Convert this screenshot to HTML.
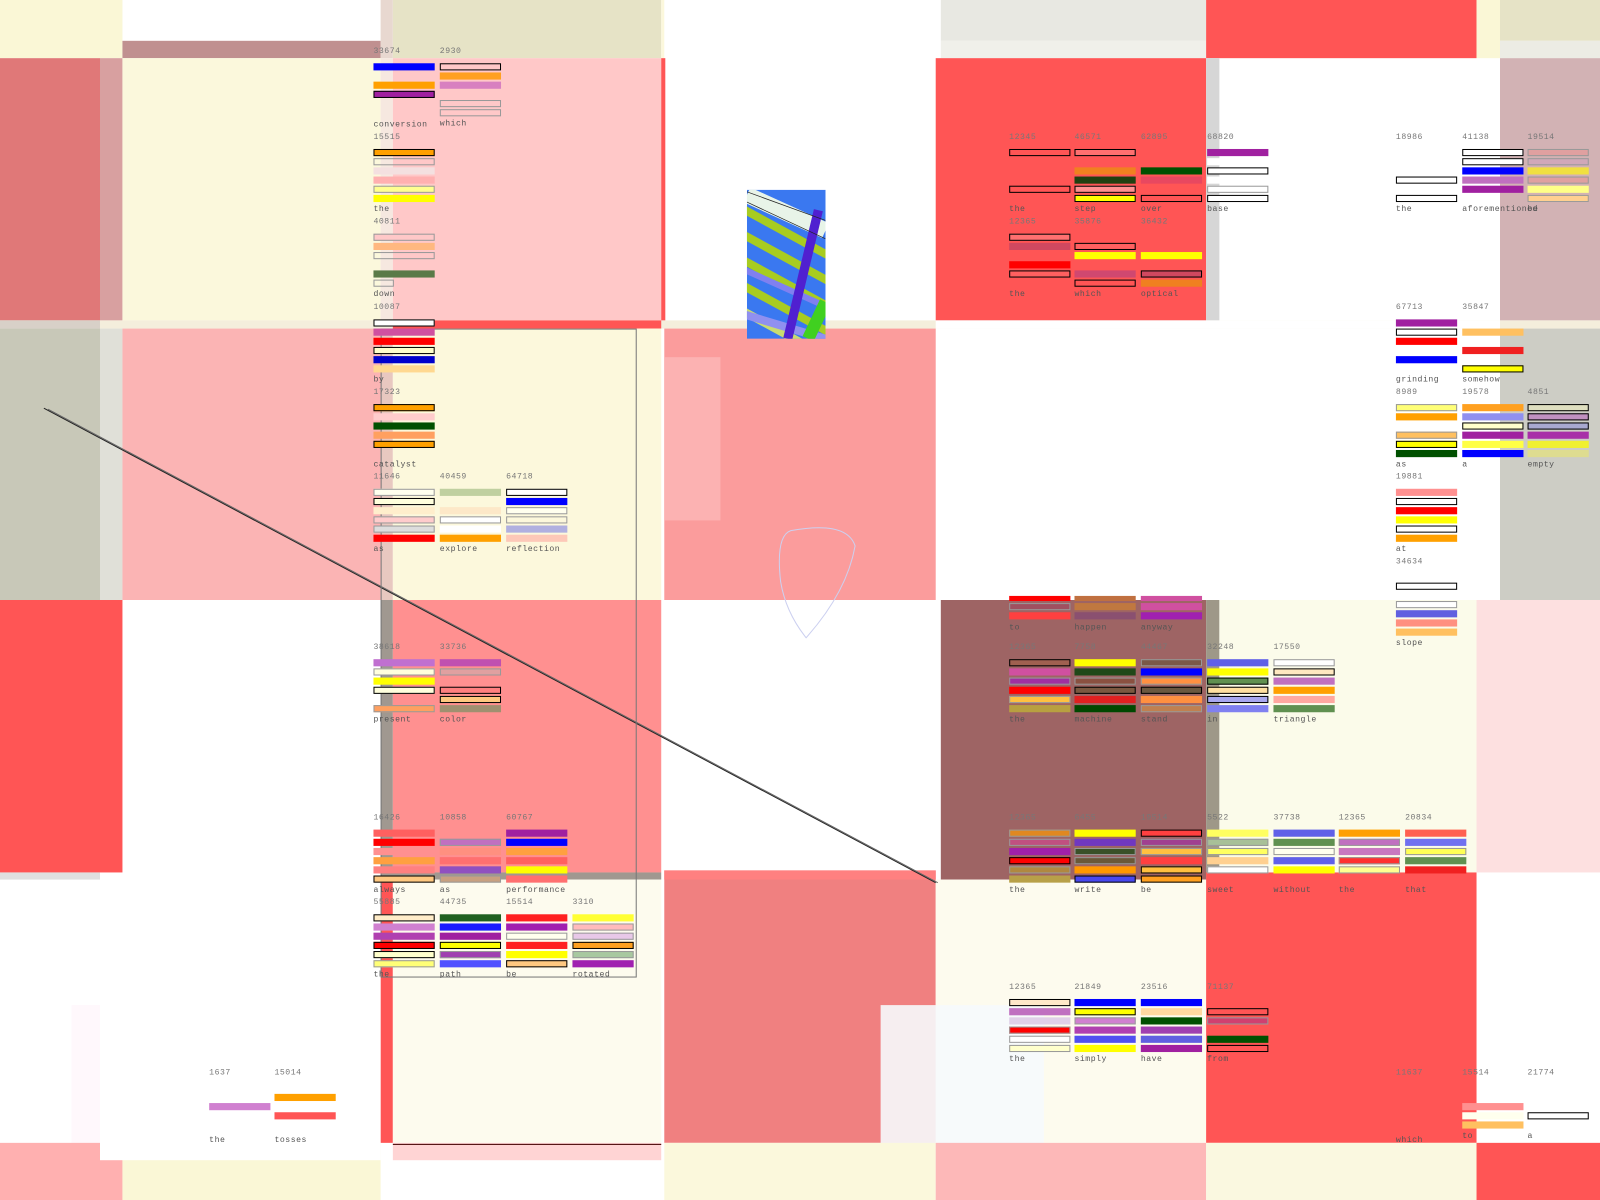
<!DOCTYPE html>
<html><head><meta charset="utf-8"><style>
html,body{margin:0;padding:0;width:1600px;height:1200px;overflow:hidden;background:#fff}
#w{position:absolute;left:0;top:0;width:1568px;height:1176px;transform:scale(1.020408);transform-origin:0 0}
.b{position:absolute}
.c{position:absolute;width:60px;font-family:"Liberation Mono",monospace;font-size:8px;color:#777;line-height:9px;letter-spacing:0.5px}
.c i{display:block;height:7px;margin-top:2px;box-sizing:border-box}
.c .o{border:1px solid #000}
.c .g{border:1px solid #999}
.c u{text-decoration:none;display:block;margin-top:3px;color:#555}
.c s{text-decoration:none;display:block;height:5px}
</style></head><body><div id="w">
<div class="b" style="left:0;top:0;width:120px;height:57px;background:#faf7d6"></div>
<div class="b" style="left:120px;top:40px;width:253px;height:17px;background:#c09090"></div>
<div class="b" style="left:373px;top:0;width:12px;height:57px;background:#e8d8d0"></div>
<div class="b" style="left:385px;top:0;width:263px;height:57px;background:#e6e3c6"></div>
<div class="b" style="left:648px;top:0;width:3px;height:57px;background:#fcf8dc"></div>
<div class="b" style="left:922px;top:0;width:260px;height:40px;background:#e8e8e2"></div>
<div class="b" style="left:922px;top:40px;width:260px;height:17px;background:#f0f0ea"></div>
<div class="b" style="left:1182px;top:0;width:265px;height:57px;background:#ff5555"></div>
<div class="b" style="left:1447px;top:0;width:23px;height:57px;background:#faf7d6"></div>
<div class="b" style="left:1470px;top:0;width:98px;height:40px;background:#e6e3c6"></div>
<div class="b" style="left:1470px;top:40px;width:98px;height:17px;background:#ecece4"></div>

<div class="b" style="left:0;top:57px;width:98px;height:257px;background:#e07878"></div>
<div class="b" style="left:98px;top:57px;width:22px;height:257px;background:#d8a0a0"></div>
<div class="b" style="left:120px;top:57px;width:253px;height:257px;background:#fbf8dc"></div>
<div class="b" style="left:373px;top:57px;width:12px;height:257px;background:#f6e8e0"></div>
<div class="b" style="left:385px;top:57px;width:263px;height:257px;background:#ffc8c8"></div>
<div class="b" style="left:648px;top:57px;width:4px;height:257px;background:#ff5555"></div>
<div class="b" style="left:917px;top:57px;width:265px;height:257px;background:#ff5555"></div>
<div class="b" style="left:1182px;top:57px;width:13px;height:257px;background:#d6d6d6"></div>
<div class="b" style="left:1470px;top:57px;width:98px;height:257px;background:#d2b2b4"></div>

<div class="b" style="left:0;top:314px;width:1568px;height:8px;background:#f4eedc"></div>
<div class="b" style="left:0;top:314px;width:98px;height:8px;background:#d8d0c8"></div>
<div class="b" style="left:385px;top:314px;width:263px;height:8px;background:#ff5555"></div>
<div class="b" style="left:917px;top:314px;width:553px;height:8px;background:#fff"></div>

<div class="b" style="left:0;top:322px;width:98px;height:266px;background:#c8c8b8"></div>
<div class="b" style="left:98px;top:322px;width:22px;height:266px;background:#e0e0d8"></div>
<div class="b" style="left:120px;top:322px;width:253px;height:266px;background:#fbb4b4"></div>
<div class="b" style="left:373px;top:322px;width:12px;height:266px;background:#e8c8c0"></div>
<div class="b" style="left:385px;top:322px;width:263px;height:266px;background:#fcf8dc"></div>
<div class="b" style="left:651px;top:322px;width:266px;height:266px;background:#fb9c9c"></div>
<div class="b" style="left:651px;top:350px;width:55px;height:160px;background:#fcb2b2"></div>
<div class="b" style="left:1470px;top:322px;width:98px;height:266px;background:#cdcdc5"></div>

<div class="b" style="left:0;top:588px;width:120px;height:267px;background:#ff5555"></div>
<div class="b" style="left:373px;top:588px;width:12px;height:267px;background:#a09890"></div>
<div class="b" style="left:385px;top:588px;width:263px;height:267px;background:#ff9090"></div>
<div class="b" style="left:922px;top:588px;width:260px;height:274px;background:#9e6464"></div>
<div class="b" style="left:1182px;top:588px;width:13px;height:274px;background:#9e9888"></div>
<div class="b" style="left:1195px;top:588px;width:252px;height:267px;background:#fbfbea"></div>
<div class="b" style="left:1447px;top:588px;width:121px;height:267px;background:#fde0e0"></div>

<div class="b" style="left:0;top:855px;width:98px;height:7px;background:#e0e0e0"></div>
<div class="b" style="left:373px;top:855px;width:275px;height:7px;background:#a09890"></div>
<div class="b" style="left:651px;top:853px;width:266px;height:267px;background:#f08080"></div>
<div class="b" style="left:651px;top:853px;width:266px;height:9px;background:#ff8080"></div>
<div class="b" style="left:373px;top:862px;width:12px;height:258px;background:#ff5555"></div>
<div class="b" style="left:385px;top:862px;width:263px;height:258px;background:#fdfbee"></div>
<div class="b" style="left:917px;top:862px;width:265px;height:258px;background:#fdfbee"></div>
<div class="b" style="left:863px;top:985px;width:160px;height:160px;background:#f6fafc;opacity:.9"></div>
<div class="b" style="left:1182px;top:855px;width:265px;height:265px;background:#ff5555"></div>
<div class="b" style="left:70px;top:985px;width:30px;height:150px;background:#fff8fc"></div>

<div class="b" style="left:0;top:1120px;width:120px;height:56px;background:#ffb0b0"></div>
<div class="b" style="left:120px;top:1120px;width:253px;height:56px;background:#faf7d6"></div>
<div class="b" style="left:98px;top:862px;width:275px;height:275px;background:#fff"></div>
<div class="b" style="left:385px;top:1120px;width:263px;height:17px;background:#ffd4d4"></div>
<div class="b" style="left:385px;top:1121px;width:263px;height:1px;background:#400"></div>
<div class="b" style="left:651px;top:1120px;width:266px;height:56px;background:#fbf8dc"></div>
<div class="b" style="left:917px;top:1120px;width:265px;height:56px;background:#fdb8b8"></div>
<div class="b" style="left:1182px;top:1120px;width:265px;height:56px;background:#faf8e0"></div>
<div class="b" style="left:1447px;top:1120px;width:121px;height:56px;background:#ff5555"></div>

<svg class="b" style="left:732px;top:186px" width="77" height="146" viewBox="0 0 77 146">
<rect width="77" height="146" fill="#3a78f0"/>
<g stroke-width="8" fill="none">
<path d="M0 5 L77 40" stroke="#e8f4e8" stroke-width="16"/>
<path d="M-20 10 L90 70" stroke="#a8cc20"/><path d="M-20 35 L90 95" stroke="#a8cc20"/><path d="M-20 60 L90 120" stroke="#a8cc20"/><path d="M-20 85 L90 145" stroke="#a8cc20"/><path d="M-20 110 L90 170" stroke="#c8dc70"/>
<path d="M-10 75 L90 120" stroke="#8080f0" stroke-width="6"/><path d="M-10 120 L90 150" stroke="#9090f0"/>
<path d="M70 20 L40 146" stroke="#5020d0" stroke-width="9"/><path d="M77 110 L60 146" stroke="#40d020" stroke-width="12"/>
<path d="M0 2 L77 30 M0 12 L77 48" stroke="#222" stroke-width="0.7"/>
</g></svg>
<svg class="b" style="left:0;top:0" width="1568" height="1176">
<path d="M775 520 Q830 510 838 535 Q830 580 790 625 Q770 600 765 570 Q760 525 775 520Z" fill="none" stroke="#ccd0f0"/>
<line x1="43" y1="400" x2="917" y2="865" stroke="#222" stroke-width="1"/>
<line x1="47" y1="401" x2="919" y2="865" stroke="#666" stroke-width="1"/>
<rect x="373.5" y="322.5" width="250" height="635" fill="none" stroke="#777"/>
</svg>

<div class="c" style="left:366px;top:46px">33674<s></s><i style="background:#00f"></i><i style="background:none"></i><i style="background:#ffa000"></i><i class="o" style="background:#a020a0"></i><u style="margin-top:22px">conversion</u></div>
<div class="c" style="left:431px;top:46px">2930<s></s><i class="o" style="background:#ffc8c8"></i><i style="background:#ffa020"></i><i style="background:#d880c0"></i><i style="background:none"></i><i class="g"></i><i class="g"></i><u>which</u></div>
<div class="c" style="left:366px;top:130px">15515<s></s><i class="o" style="background:#ffa000"></i><i class="g"></i><i style="background:#f4e0e0"></i><i style="background:#ffb0b0"></i><i class="g" style="background:#ffff90"></i><i style="background:#ff0"></i><u>the</u></div>
<div class="c" style="left:366px;top:213px">40811<s></s><i class="g" style="background:#ffc8c8"></i><i style="background:#ffb880"></i><i class="g"></i><i style="background:none"></i><i style="background:#5a7a48"></i><i class="g" style="width:20px"></i><u>down</u></div>
<div class="c" style="left:366px;top:297px">10087<s></s><i class="o" style="background:#fff"></i><i style="background:#d050a0"></i><i style="background:#f00"></i><i class="o" style="background:#ffc"></i><i style="background:#00c"></i><i style="background:#ffd890"></i><u>by</u></div>
<div class="c" style="left:366px;top:380px">17323<s></s><i class="o" style="background:#ffa000"></i><i style="background:#fcc"></i><i style="background:#005000"></i><i style="background:#ffa060"></i><i class="o" style="background:#ffa000"></i><u style="margin-top:12px">catalyst</u></div>
<div class="c" style="left:366px;top:463px">11646<s></s><i class="g" style="background:#ffe"></i><i class="o" style="background:#ffd"></i><i style="background:#fec"></i><i class="g" style="background:#fcc"></i><i class="g" style="background:#ddd"></i><i style="background:#f00"></i><u>as</u></div>
<div class="c" style="left:431px;top:463px">40459<s></s><i style="background:#c0d0a0"></i><i style="background:none"></i><i style="background:#fde8c8"></i><i class="g" style="background:#fff"></i><i style="background:#fff"></i><i style="background:#ffa000"></i><u>explore</u></div>
<div class="c" style="left:496px;top:463px">64718<s></s><i class="o" style="background:#fff"></i><i style="background:#00f"></i><i class="g" style="background:#ffe"></i><i class="g"></i><i style="background:#b0b0e0"></i><i style="background:#fdc8b8"></i><u>reflection</u></div>
<div class="c" style="left:366px;top:630px">38618<s></s><i style="background:#c070d0"></i><i class="g" style="background:#ffd"></i><i style="background:#ff0"></i><i class="o" style="background:#ffd"></i><i style="background:none"></i><i class="g" style="background:#ffa060"></i><u>present</u></div>
<div class="c" style="left:431px;top:630px">33736<s></s><i style="background:#c050b0"></i><i class="g" style="background:#e0a0a0"></i><i style="background:none"></i><i class="o" style="background:#ff8080"></i><i class="o" style="background:#ffc880"></i><i style="background:#a09070"></i><u>color</u></div>
<div class="c" style="left:366px;top:797px">16426<s></s><i style="background:#ff6060"></i><i style="background:#f00"></i><i style="background:#ff9090"></i><i style="background:#ffa040"></i><i style="background:#ff8080"></i><i class="o" style="background:#ffc880"></i><u>always</u></div>
<div class="c" style="left:431px;top:797px">10858<s></s><i style="background:none"></i><i class="g" style="background:#c070c0"></i><i style="background:#ff9080"></i><i style="background:#ff7070"></i><i style="background:#9050c0"></i><i class="g" style="background:#c8a080"></i><u>as</u></div>
<div class="c" style="left:496px;top:797px">60767<s></s><i style="background:#a020a0"></i><i style="background:#00f"></i><i style="background:#ffa040"></i><i style="background:#ff6060"></i><i style="background:#ff0"></i><i style="background:#ff7070"></i><u>performance</u></div>
<div class="c" style="left:366px;top:880px">55885<s></s><i class="o" style="background:#ffecc8"></i><i style="background:#d080d0"></i><i style="background:#b040b0"></i><i class="o" style="background:#f00"></i><i class="o" style="background:#ffc"></i><i class="g" style="background:#ff7"></i><u>the</u></div>
<div class="c" style="left:431px;top:880px">44735<s></s><i style="background:#206020"></i><i style="background:#1a1aff"></i><i style="background:#a020a0"></i><i class="o" style="background:#ff0"></i><i class="g" style="background:#a040b0"></i><i style="background:#5050ff"></i><u>path</u></div>
<div class="c" style="left:496px;top:880px">15514<s></s><i style="background:#ff2020"></i><i style="background:#a020b0"></i><i class="g" style="background:#ffe"></i><i style="background:#ff2020"></i><i style="background:#ff0"></i><i class="o" style="background:#ffc880"></i><u>be</u></div>
<div class="c" style="left:561px;top:880px">3310<s></s><i style="background:#ff3"></i><i class="g" style="background:#fbb"></i><i class="g" style="background:#e8c8e8"></i><i class="o" style="background:#ffa020"></i><i class="g" style="background:#a8c8a0"></i><i style="background:#a020b0"></i><u>rotated</u></div>
<div class="c" style="left:205px;top:1047px">1637<s></s><i style="background:none"></i><i style="background:none"></i><i style="background:#d080d0"></i><u style="margin-top:25px">the</u></div>
<div class="c" style="left:269px;top:1047px">15014<s></s><i style="background:none"></i><i style="background:#ffa000"></i><i style="background:none"></i><i style="background:#ff5555"></i><u style="margin-top:16px">tosses</u></div>

<div class="c" style="left:989px;top:130px">12345<s></s><i class="o" style="background:#ff5555"></i><i style="background:none"></i><i style="background:none"></i><i style="background:none"></i><i class="o" style="background:#ff5555"></i><i style="background:none"></i><u>the</u></div>
<div class="c" style="left:1053px;top:130px">46571<s></s><i class="o" style="background:#ff7070"></i><i style="background:none"></i><i style="background:#f08020"></i><i style="background:#204010"></i><i class="o" style="background:#ff9090"></i><i class="o" style="background:#ff0"></i><u>step</u></div>
<div class="c" style="left:1118px;top:130px">62895<s></s><i style="background:none"></i><i style="background:none"></i><i style="background:#005000"></i><i style="background:#e84860"></i><i style="background:none"></i><i class="o" style="background:#ff5555"></i><u>over</u></div>
<div class="c" style="left:1183px;top:130px">68820<s></s><i style="background:#a020a0"></i><i style="background:#fff"></i><i class="o" style="background:#fff"></i><i style="background:#fff"></i><i class="g" style="background:#fff"></i><i class="o" style="background:#fff"></i><u>base</u></div>
<div class="c" style="left:989px;top:213px">12365<s></s><i class="o" style="background:#ff7070"></i><i style="background:#d04860"></i><i style="background:none"></i><i style="background:#f00"></i><i class="o" style="background:#ff6060"></i><u style="margin-top:12px">the</u></div>
<div class="c" style="left:1053px;top:213px">35876<s></s><i style="background:none"></i><i class="o" style="background:#ff6060"></i><i style="background:#ff0"></i><i style="background:none"></i><i style="background:#d04870"></i><i class="o" style="background:#ff5555"></i><u>which</u></div>
<div class="c" style="left:1118px;top:213px">36432<s></s><i style="background:none"></i><i style="background:none"></i><i style="background:#ff0"></i><i style="background:none"></i><i class="o" style="background:#d04860"></i><i style="background:#f08020"></i><u>optical</u></div>
<div class="c" style="left:1368px;top:130px">18986<s></s><i style="background:none"></i><i style="background:none"></i><i style="background:none"></i><i class="o" style="background:#fff"></i><i style="background:none"></i><i class="o" style="background:#fff"></i><u>the</u></div>
<div class="c" style="left:1433px;top:130px">41138<s></s><i class="o" style="background:#fff"></i><i class="o" style="background:#fff"></i><i style="background:#00f"></i><i style="background:#c070c0"></i><i style="background:#a020a0"></i><i style="background:none"></i><u>aforementioned</u></div>
<div class="c" style="left:1497px;top:130px">19514<s></s><i class="g" style="background:#e0a0a0"></i><i class="g" style="background:#d0a8b8"></i><i style="background:#f0e040"></i><i class="g" style="background:#e0a0a0"></i><i style="background:#ff8"></i><i class="g" style="background:#ffd090"></i><u>be</u></div>
<div class="c" style="left:1368px;top:297px">67713<s></s><i style="background:#a020a0"></i><i class="o" style="background:#fff"></i><i style="background:#f00"></i><i style="background:none"></i><i style="background:#00f"></i><u style="margin-top:12px">grinding</u></div>
<div class="c" style="left:1433px;top:297px">35847<s></s><i style="background:none"></i><i style="background:#ffc060"></i><i style="background:none"></i><i style="background:#f02020"></i><i style="background:none"></i><i class="o" style="background:#ff0"></i><u>somehow</u></div>
<div class="c" style="left:1368px;top:380px">8989<s></s><i class="g" style="background:#ff7"></i><i style="background:#ffa000"></i><i style="background:none"></i><i class="g" style="background:#ffc060"></i><i class="o" style="background:#ff0"></i><i style="background:#005000"></i><u>as</u></div>
<div class="c" style="left:1433px;top:380px">19578<s></s><i style="background:#ffa020"></i><i style="background:#9090f0"></i><i class="o" style="background:#ffc"></i><i style="background:#a020a0"></i><i style="background:#ff4"></i><i style="background:#00f"></i><u>a</u></div>
<div class="c" style="left:1497px;top:380px">4851<s></s><i class="o" style="background:#dfdfc0"></i><i class="o" style="background:#c090c0"></i><i class="o" style="background:#a8a8d0"></i><i style="background:#a830a8"></i><i style="background:#f0f030"></i><i style="background:#dedc90"></i><u>empty</u></div>
<div class="c" style="left:1368px;top:463px">19881<s></s><i style="background:#ff9090"></i><i class="o" style="background:#fff"></i><i style="background:#f00"></i><i style="background:#ff0"></i><i class="o" style="background:#fff"></i><i style="background:#ffa000"></i><u>at</u></div>
<div class="c" style="left:1368px;top:546px">34634<s></s><i style="background:none"></i><i class="o" style="background:#fff"></i><i style="background:none"></i><i class="g" style="background:#fff"></i><i style="background:#6060e0"></i><i style="background:#ff9080"></i><i style="background:#ffc060"></i><u>slope</u></div>

<div class="c" style="left:989px;top:584px"><i style="background:#f00;height:5px;margin-top:0"></i><i class="g" style="background:#a05060"></i><i style="background:#ff4040"></i><u style="margin-top:4px">to</u></div>
<div class="c" style="left:1053px;top:584px"><i style="background:#c07040;height:5px;margin-top:0"></i><i style="background:#c07840"></i><i style="background:#8a5070"></i><u style="margin-top:4px">happen</u></div>
<div class="c" style="left:1118px;top:584px"><i style="background:#d050a0;height:5px;margin-top:0"></i><i style="background:#d050a0"></i><i style="background:#a020b0"></i><u style="margin-top:4px">anyway</u></div>
<div class="c" style="left:989px;top:630px">12365<s></s><i class="o" style="background:#a06050"></i><i style="background:#d050a0"></i><i class="g" style="background:#a030a0"></i><i style="background:#f00"></i><i class="g" style="background:#ffc040"></i><i style="background:#b8a040"></i><u>the</u></div>
<div class="c" style="left:1053px;top:630px">7758<s></s><i style="background:#ff0"></i><i style="background:#204818"></i><i class="g" style="background:#8a5040"></i><i class="o" style="background:#7a5840"></i><i style="background:#e02020"></i><i style="background:#004800"></i><u>machine</u></div>
<div class="c" style="left:1118px;top:630px">44467<s></s><i class="g" style="background:#7a5848"></i><i style="background:#00f"></i><i class="g" style="background:#ff9040"></i><i class="o" style="background:#6a5840"></i><i style="background:#ff9040"></i><i class="g" style="background:#c08050"></i><u>stand</u></div>
<div class="c" style="left:1183px;top:630px">32248<s></s><i style="background:#6060e8"></i><i style="background:#ff0"></i><i class="o" style="background:#609050"></i><i class="o" style="background:#ffe0a0"></i><i class="o" style="background:#a8a8f0"></i><i style="background:#8080f0"></i><u>in</u></div>
<div class="c" style="left:1248px;top:630px">17550<s></s><i class="g" style="background:#fff"></i><i class="o" style="background:#ffe8c0"></i><i style="background:#c070c0"></i><i style="background:#ffa000"></i><i style="background:#ffa8a0"></i><i style="background:#609050"></i><u>triangle</u></div>
<div class="c" style="left:989px;top:797px">12365<s></s><i class="g" style="background:#e08820"></i><i class="g" style="background:#c05080"></i><i style="background:#a020a8"></i><i class="o" style="background:#f00"></i><i class="g" style="background:#b08840"></i><i style="background:#b8a048"></i><u>the</u></div>
<div class="c" style="left:1053px;top:797px">6455<s></s><i style="background:#ff0"></i><i style="background:#7038c0"></i><i class="g" style="background:#3a5028"></i><i class="g" style="background:#6a5838"></i><i style="background:#ff9800"></i><i class="o" style="background:#4848f0"></i><u>write</u></div>
<div class="c" style="left:1118px;top:797px">19514<s></s><i class="o" style="background:#ff4040"></i><i class="g" style="background:#a04090"></i><i class="g" style="background:#ffc040"></i><i style="background:#ff4040"></i><i class="o" style="background:#ffc040"></i><i class="o" style="background:#ffa020"></i><u>be</u></div>
<div class="c" style="left:1183px;top:797px">5522<s></s><i style="background:#ffff60"></i><i class="g" style="background:#a8c098"></i><i class="g" style="background:#ffff60"></i><i style="background:#ffd090"></i><i class="g" style="background:#fff"></i><u style="margin-top:12px">sweet</u></div>
<div class="c" style="left:1248px;top:797px">37738<s></s><i style="background:#6060e8"></i><i style="background:#609050"></i><i class="g" style="background:#ffe"></i><i style="background:#6060e8"></i><i style="background:#ff0"></i><u style="margin-top:12px">without</u></div>
<div class="c" style="left:1312px;top:797px">12365<s></s><i style="background:#ffa000"></i><i class="g" style="background:#c070c0"></i><i style="background:#c878c0"></i><i class="g" style="background:#ff3030"></i><i class="g" style="background:#ffff90"></i><u style="margin-top:12px">the</u></div>
<div class="c" style="left:1377px;top:797px">20834<s></s><i style="background:#ff6050"></i><i style="background:#7070f0"></i><i class="g" style="background:#ff5"></i><i style="background:#609050"></i><i style="background:#f02020"></i><u style="margin-top:12px">that</u></div>
<div class="c" style="left:989px;top:963px">12365<s></s><i class="o" style="background:#ffe8c8"></i><i style="background:#c070c0"></i><i style="background:#e0d0e8"></i><i class="g" style="background:#f00"></i><i class="g" style="background:#fff"></i><i class="g" style="background:#ffc"></i><u>the</u></div>
<div class="c" style="left:1053px;top:963px">21849<s></s><i style="background:#00f"></i><i class="o" style="background:#ff0"></i><i class="g" style="background:#d080d0"></i><i style="background:#b040b0"></i><i style="background:#5050f0"></i><i style="background:#ff0"></i><u>simply</u></div>
<div class="c" style="left:1118px;top:963px">23516<s></s><i style="background:#00f"></i><i style="background:#ffd8a0"></i><i style="background:#005000"></i><i style="background:#a040b0"></i><i style="background:#6060e0"></i><i style="background:#a020a0"></i><u>have</u></div>
<div class="c" style="left:1183px;top:963px">71137<s></s><i style="background:none"></i><i class="o" style="background:#ff5555"></i><i class="g" style="background:#d04070"></i><i style="background:none"></i><i style="background:#005000"></i><i class="o" style="background:#ff5555"></i><u>from</u></div>
<div class="c" style="left:1368px;top:1047px">11637<s></s><i style="background:none"></i><i style="background:none"></i><i style="background:none"></i><u style="margin-top:25px">which</u></div>
<div class="c" style="left:1433px;top:1047px">15514<s></s><i style="background:none"></i><i style="background:none"></i><i style="background:#ff9090"></i><i style="background:#ffe"></i><i style="background:#ffc060"></i><u>to</u></div>
<div class="c" style="left:1497px;top:1047px">21774<s></s><i style="background:none"></i><i style="background:none"></i><i style="background:none"></i><i class="o" style="background:#fff"></i><u style="margin-top:12px">a</u></div>
</div></body></html>
